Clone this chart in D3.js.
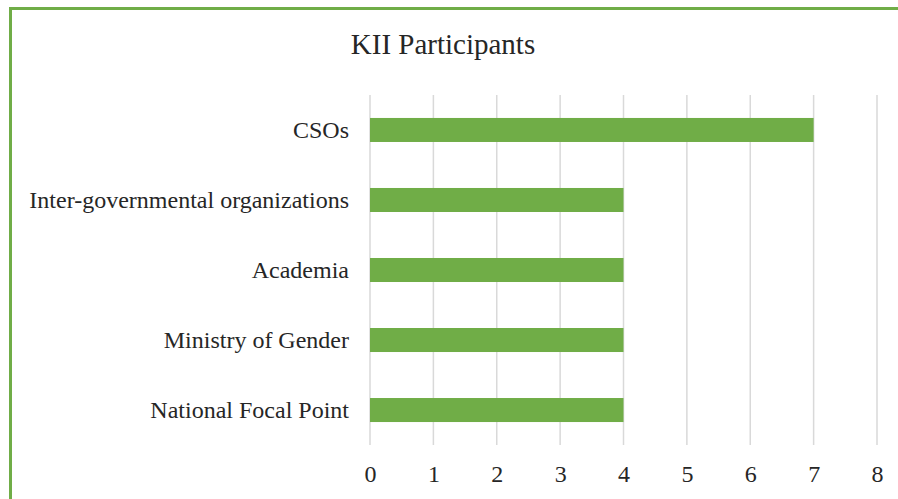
<!DOCTYPE html>
<html lang="en">
<head>
<meta charset="utf-8">
<title>KII Participants</title>
<script src="https://cdn.jsdelivr.net/npm/d3@7"></script>
<style>
  html, body { margin: 0; padding: 0; background: white; overflow: hidden; }
</style>
</head>
<body>
<div id="chart"></div>
<script>
// data
var categories = ["CSOs", "Inter-governmental organizations", "Academia", "Ministry of Gender", "National Focal Point"];
var counts = [7, 4, 4, 4, 4];
var tickValues = [0, 1, 2, 3, 4, 5, 6, 7, 8];
var chartTitle = "KII Participants";

var serif = "Liberation Serif, Times New Roman, serif";
var w = 898, h = 499;
var plotLeft = 370, plotRight = 877, plotTop = 95, plotBottom = 445;

var svg = d3.select("#chart").append("svg")
  .attr("width", w)
  .attr("height", h);

// green frame (only the left and top edges show)
svg.append("rect")
  .attr("x", 10.5)
  .attr("y", 8.5)
  .attr("width", w + 20)
  .attr("height", h + 20)
  .attr("fill", "white")
  .attr("stroke", "#70AD47")
  .attr("stroke-width", 3);

var x = d3.scaleLinear().domain([0, 8]).range([plotLeft, plotRight]);
var y = d3.scaleBand().domain(categories).range([plotTop, plotBottom]).paddingInner(0.657).paddingOuter(0.328);

// gridlines
svg.append("g").selectAll("line")
  .data(tickValues)
  .enter()
  .append("line")
  .attr("x1", function(d) { return x(d); })
  .attr("x2", function(d) { return x(d); })
  .attr("y1", plotTop)
  .attr("y2", plotBottom)
  .attr("stroke", "#d9d9d9")
  .attr("stroke-width", 1.5);

// bars
svg.append("g").selectAll("rect")
  .data(categories)
  .enter()
  .append("rect")
  .attr("x", x(0))
  .attr("y", function(d) { return y(d); })
  .attr("width", function(d, i) { return x(counts[i]) - x(0); })
  .attr("height", y.bandwidth())
  .attr("fill", "#70AD47");

// x axis labels
var xAxis = d3.axisBottom(x).tickValues(tickValues).tickSize(0).tickPadding(0);
var gx = svg.append("g")
  .attr("transform", "translate(0," + 482 + ")")
  .call(xAxis)
  .attr("font-family", serif)
  .attr("font-size", 24);
gx.select(".domain").remove();
gx.selectAll("text").attr("fill", "#262626").attr("dy", 0);

// y axis labels
var yAxis = d3.axisLeft(y).tickSize(0).tickPadding(21);
var gy = svg.append("g")
  .attr("transform", "translate(" + plotLeft + ",0)")
  .call(yAxis)
  .attr("font-family", serif)
  .attr("font-size", 24);
gy.select(".domain").remove();
gy.selectAll("text").attr("fill", "#262626");

// title
svg.append("text")
  .attr("x", 443)
  .attr("y", 54)
  .attr("text-anchor", "middle")
  .attr("font-family", serif)
  .attr("font-size", 29)
  .attr("fill", "#262626")
  .text(chartTitle);
</script>
</body>
</html>
